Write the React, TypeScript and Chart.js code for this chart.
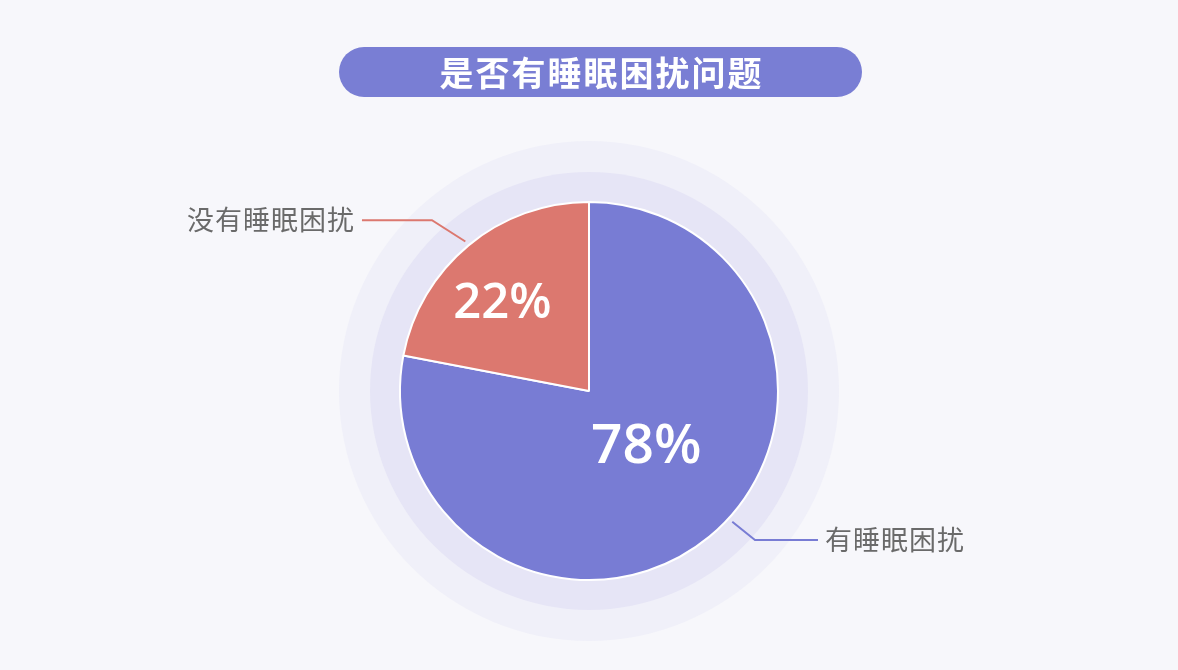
import React, { useEffect, useRef } from 'react';
import { Chart, registerables } from 'chart.js';

Chart.register(...registerables);

const TITLE = '是否有睡眠困扰问题';
const categories = ['有睡眠困扰', '没有睡眠困扰'];
const values = [78, 22];
const percentLabels = ['78%', '22%'];
const sliceColors = ['#787cd4', '#dc786f'];

const CJK = '"Noto Sans CJK SC", "Noto Sans", sans-serif';
const NUM = '"Open Sans", "Noto Sans", sans-serif';

// style tweaks (degrees / factors / pixels)
const pctAngleOffset = [-8, -4];
const pctRadiusFactor = [0.41, 0.665];
const pctFontSize = [55, 49];
const lineAngleOffset = [-8, 0];
const elbowAngleOffset = [-8.5, -3];
const elbowExtend = [34, 43];
const lineHorizontal = [63, 70];

export default function App() {
  const ref = useRef<HTMLCanvasElement>(null);

  useEffect(() => {
    document.body.style.margin = '0';
    const canvas = ref.current!;

    const decor = {
      id: 'decor',
      beforeDraw(chart: any) {
        const c = chart.ctx as CanvasRenderingContext2D;
        c.save();
        c.fillStyle = '#f7f7fb';
        c.fillRect(0, 0, chart.width, chart.height);
        const arc = chart.getDatasetMeta(0).data[0];
        if (arc) {
          const { x, y, outerRadius } = arc.getProps(['x', 'y', 'outerRadius'], true);
          c.beginPath();
          c.arc(x, y, outerRadius + 61, 0, Math.PI * 2);
          c.fillStyle = '#f0f0f9';
          c.fill();
          c.beginPath();
          c.arc(x, y, outerRadius + 30, 0, Math.PI * 2);
          c.fillStyle = '#e6e5f6';
          c.fill();
        }
        // title pill
        const px = 339, py = 47, pw = 523, ph = 50, pr = 25;
        c.beginPath();
        c.moveTo(px + pr, py);
        c.lineTo(px + pw - pr, py);
        c.arc(px + pw - pr, py + pr, pr, -Math.PI / 2, Math.PI / 2);
        c.lineTo(px + pr, py + ph);
        c.arc(px + pr, py + pr, pr, Math.PI / 2, Math.PI * 1.5);
        c.closePath();
        c.fillStyle = '#797ed4';
        c.fill();
        c.fillStyle = '#ffffff';
        c.font = `bold 34px ${CJK}`;
        (c as any).letterSpacing = '2px';
        c.textAlign = 'center';
        c.textBaseline = 'middle';
        c.fillText(TITLE, px + pw / 2 + 1, py + ph / 2 + 1);
        c.restore();
      },
      afterDatasetsDraw(chart: any) {
        const c = chart.ctx as CanvasRenderingContext2D;
        const meta = chart.getDatasetMeta(0);
        meta.data.forEach((arc: any, i: number) => {
          const { x, y, startAngle, endAngle, outerRadius } = arc.getProps(
            ['x', 'y', 'startAngle', 'endAngle', 'outerRadius'],
            true
          );
          const mid = (startAngle + endAngle) / 2;
          const rad = (d: number) => (d * Math.PI) / 180;
          c.save();
          // percentage label
          const pa = mid + rad(pctAngleOffset[i]);
          const pd = outerRadius * pctRadiusFactor[i];
          const fs = pctFontSize[i];
          c.font = `600 ${fs}px ${NUM}`;
          c.fillStyle = '#ffffff';
          c.textAlign = 'center';
          c.textBaseline = 'alphabetic';
          c.fillText(percentLabels[i], x + Math.cos(pa) * pd, y + Math.sin(pa) * pd + fs * 0.36);

          // leader line
          const la = mid + rad(lineAngleOffset[i]);
          const ea = mid + rad(elbowAngleOffset[i]);
          const x0 = x + Math.cos(la) * (outerRadius + 5);
          const y0 = y + Math.sin(la) * (outerRadius + 5);
          const x1 = x + Math.cos(ea) * (outerRadius + elbowExtend[i]);
          const y1 = y + Math.sin(ea) * (outerRadius + elbowExtend[i]);
          const dir = Math.cos(ea) >= 0 ? 1 : -1;
          const x2 = x1 + dir * lineHorizontal[i];
          c.beginPath();
          c.moveTo(x0, y0);
          c.lineTo(x1, y1);
          c.lineTo(x2, y1);
          c.strokeStyle = sliceColors[i];
          c.lineWidth = 2;
          c.stroke();
          // category label
          c.font = `27px ${CJK}`;
          (c as any).letterSpacing = '1px';
          c.fillStyle = '#6a6a6a';
          c.textAlign = dir > 0 ? 'left' : 'right';
          c.textBaseline = 'middle';
          c.fillText(categories[i], x2 + dir * 7, y1);
          c.restore();
        });
      },
    };

    const chart = new Chart(canvas, {
      type: 'pie',
      data: {
        labels: categories,
        datasets: [
          {
            data: values,
            backgroundColor: sliceColors,
            borderColor: '#ffffff',
            borderWidth: 2,
            radius: 189,
          } as any,
        ],
      },
      options: {
        responsive: false,
        animation: false,
        layout: { padding: { top: 112, left: 0, right: 0, bottom: 0 } },
        plugins: {
          legend: { display: false },
          tooltip: { enabled: false },
          title: { display: false },
        },
      },
      plugins: [decor],
    });
    return () => chart.destroy();
  }, []);

  return (
    <div style={{ width: 1178, height: 670, background: '#f7f7fb' }}>
      <canvas ref={ref} width={1178} height={670} style={{ display: 'block', width: 1178, height: 670 }} />
    </div>
  );
}
